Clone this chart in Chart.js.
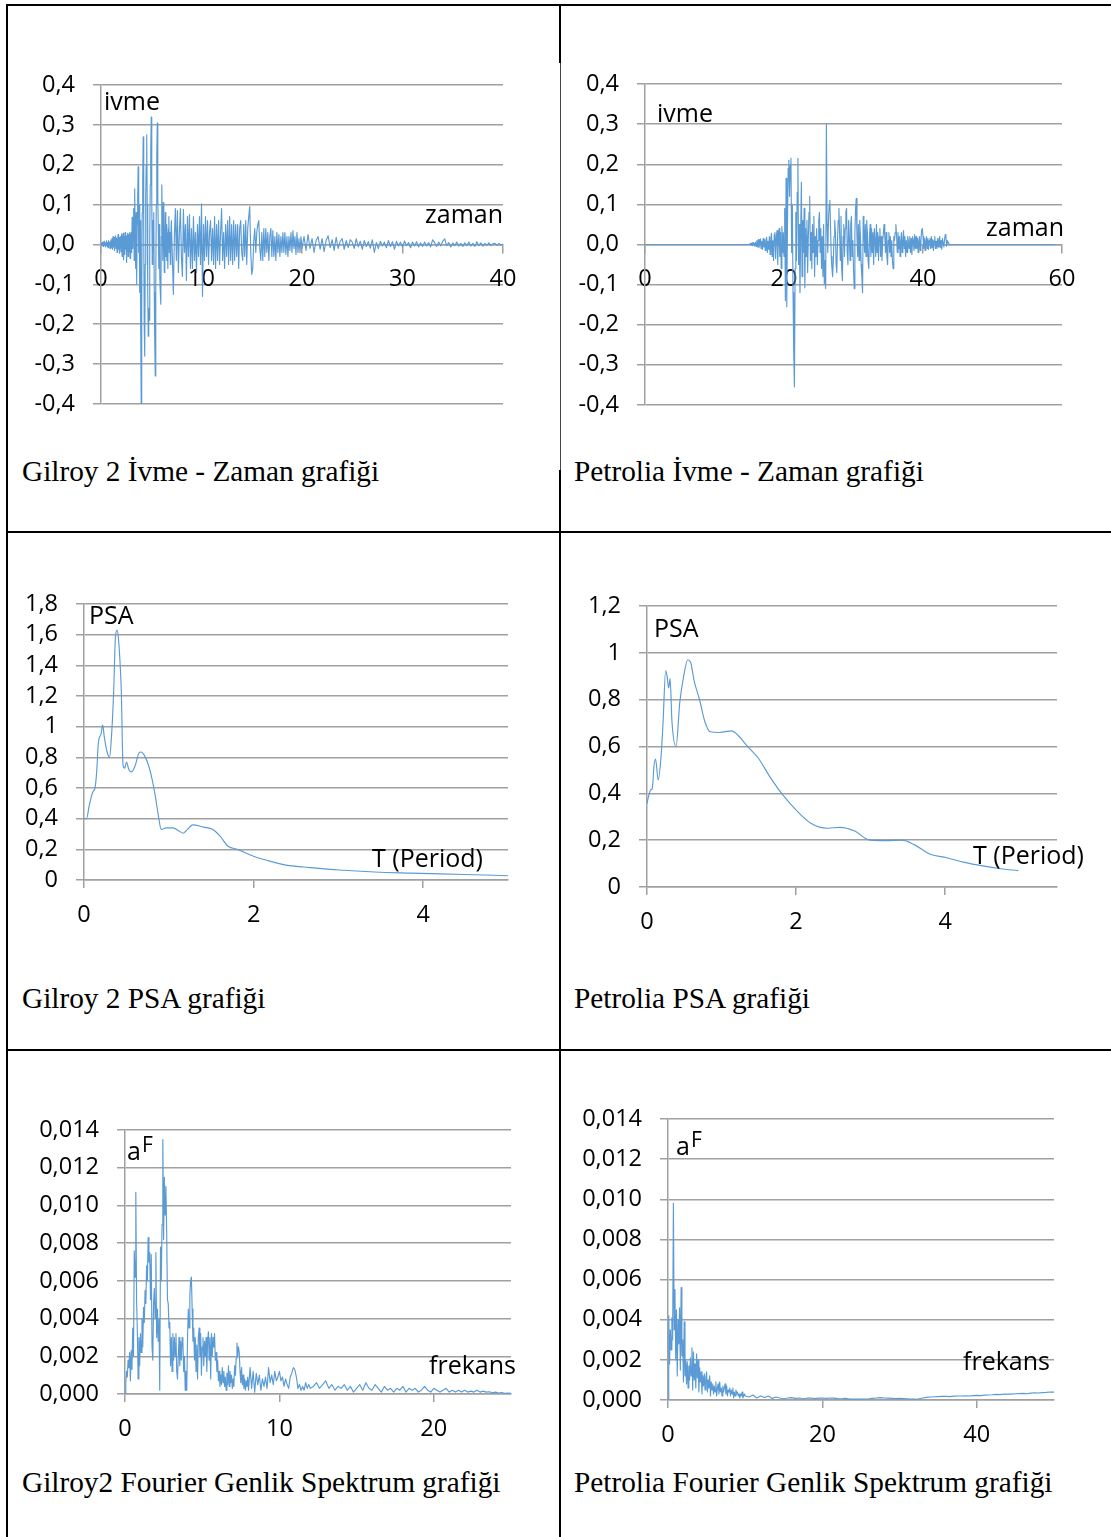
<!DOCTYPE html>
<html lang="tr">
<head>
<meta charset="utf-8">
<title>Gilroy 2 ve Petrolia kayıtları</title>
<script src="https://cdn.jsdelivr.net/npm/chart.js@4.4.1/dist/chart.umd.min.js"></script>
<style>
  html, body { margin: 0; padding: 0; background: #fff; }
  #page { position: relative; width: 1111px; height: 1537px; overflow: hidden; background: #fff; }
  .rule { position: absolute; background: #000; }
  .cap { position: absolute; font-family: 'Liberation Serif', 'Times New Roman', serif; font-size: 29.3px;
         line-height: 29px; color: #000; white-space: nowrap; }
  canvas { position: absolute; }
</style>
</head>
<body>
<div id="page">
  <!-- table rules -->
  <div class="rule" style="left:6px;top:4px;width:1105px;height:2px"></div>
  <div class="rule" style="left:6px;top:4px;width:2px;height:1533px"></div>
  <div class="rule" style="left:6px;top:531px;width:1105px;height:2px"></div>
  <div class="rule" style="left:6px;top:1049px;width:1105px;height:2px"></div>
  <div class="rule" style="left:559px;top:4px;width:2px;height:59px"></div>
  <div class="rule" style="left:560px;top:63px;width:1px;height:407px;background:#444"></div>
  <div class="rule" style="left:559px;top:470px;width:2px;height:1067px"></div>

  <canvas id="gilroyAccChart"></canvas>
  <canvas id="petroliaAccChart"></canvas>
  <canvas id="gilroyPsaChart"></canvas>
  <canvas id="petroliaPsaChart"></canvas>
  <canvas id="gilroyFasChart"></canvas>
  <canvas id="petroliaFasChart"></canvas>

  <div class="cap" style="left:22px;top:457px">Gilroy 2 İvme - Zaman grafiği</div>
  <div class="cap" style="left:574px;top:457px">Petrolia İvme - Zaman grafiği</div>
  <div class="cap" style="left:22px;top:984px">Gilroy 2 PSA grafiği</div>
  <div class="cap" style="left:574px;top:984px">Petrolia PSA grafiği</div>
  <div class="cap" style="left:22px;top:1468px">Gilroy2 Fourier Genlik Spektrum grafiği</div>
  <div class="cap" style="left:574px;top:1468px">Petrolia Fourier Genlik Spektrum grafiği</div>
</div>

<script>
// ---------- Gilroy 2 acceleration record (g) ----------
// 0 - 7 s, sampled every 0.05 s
const gilroyAccEarly = [
  0, 0.004, -0.003, 0.006, 0.002, -0.005, 0.008, -0.002, 0.004, -0.006, 0.003, 0.009, -0.004, 0.005, -0.008, 0.010, -0.003, 0.006, -0.010, 0.004,
  0.012, -0.008, 0.015, -0.012, 0.020, -0.006, 0.018, -0.015, 0.010, 0.022, -0.010, 0.016, -0.020, 0.008, 0.025, -0.012, 0.018, -0.022, 0.012, 0.020,
  -0.018, 0.026, -0.030, 0.015, 0.028, -0.038, 0.020, -0.025, 0.030, -0.012, 0.022, -0.045, 0.018, 0.028, -0.030, 0.025, -0.020, 0.030, -0.035, 0.020,
  0.03, -0.02, 0.068, -0.01, 0.05, 0.09, -0.04, 0.14, 0.03, -0.06, 0.08, -0.10, 0.05, 0.12, 0.195, -0.02, 0.10, -0.12, 0.06, -0.20,
  -0.40, -0.15, 0.08, 0.16, 0.27, 0.05, -0.20, -0.28, -0.05, 0.12, 0.20, 0.275, 0.10, -0.12, -0.23, -0.16, -0.19, 0.02, 0.15, 0.24,
  0.32, 0.12, -0.05, 0.06, -0.02, 0.08, -0.12, -0.25, -0.33, -0.10, 0.10, 0.22, 0.305, 0.12, 0.04, -0.06, 0.05, -0.08, -0.12, -0.15,
  0.02, 0.15, 0.06, -0.04, 0.105, 0.03, -0.07, 0.02, 0.08, -0.03, 0.05, -0.04, 0.03, -0.06, 0.04, 0.07, -0.02, 0.03, -0.05, 0.02,
  0.06
];
// 7.1 - 20 s, sampled every 0.1 s
const gilroyAccMid = [
  -0.03, -0.125, 0.02, 0.09, -0.04, 0.085, -0.07, 0.03, 0.09, -0.03,
  -0.08, 0.088, -0.02, 0.05, -0.09, 0.07, -0.03, 0.075, -0.06, 0.04,
  -0.06, 0.07, -0.04, 0.03, -0.07, 0.05, -0.03, 0.07, -0.05, 0.102,
  -0.13, 0.05, -0.04, 0.07, -0.03, 0.06, -0.05, 0.03, 0.06, -0.04,
  0.04, -0.05, 0.07, -0.06, 0.05, -0.04, 0.06, -0.05, 0.03, 0.09,
  -0.04, 0.03, -0.06, 0.05, -0.03, 0.06, -0.05, 0.07, -0.04, 0.05,
  -0.05, 0.06, -0.04, 0.05, -0.03, 0.05, -0.06, 0.04, 0.06, -0.02,
  -0.04, 0.05, -0.03, 0.06, -0.05, 0.04, 0.07, 0.095, -0.02, -0.075,
  -0.06, 0.01, 0.04, -0.02, 0.03, 0.05, 0.06, -0.01, -0.04, 0.03,
  -0.04, 0.04, -0.03, 0.04, -0.02, 0.03, -0.04, 0.02, 0.04, -0.03,
  0.035, -0.03, 0.02, -0.04, 0.03, -0.02, 0.025, -0.03, 0.02, -0.02,
  0.03, -0.02, 0.03, -0.025, 0.02, -0.03, 0.02, -0.015, 0.03, -0.02,
  0.035, -0.01, 0.02, -0.025, 0.03, -0.02, 0.015, -0.02, 0.02, -0.01
];
// 20.2 - 40 s, sampled every 0.2 s
const gilroyAccLate = [
  0.02, -0.015, 0.025, -0.01, 0.015, -0.02, 0.01, 0.02, -0.012, 0.015, -0.018, 0.01, 0.022, -0.008, 0.012, -0.015, 0.018, -0.01, 0.008, 0.015,
  -0.012, 0.01, -0.008, 0.012, 0.006, -0.01, 0.014, -0.006, 0.008, -0.012, 0.01, -0.005, 0.007, -0.009, 0.012, -0.02, 0.005, -0.01, 0.008, -0.004,
  0.006, -0.008, 0.01, -0.005, 0.007, -0.012, 0.008, -0.004, 0.006, -0.007, 0.009, -0.003, 0.005, -0.008, 0.006, -0.004, 0.007, -0.006, 0.004, -0.005,
  0.006, -0.004, 0.005, -0.006, 0.012, 0.004, -0.005, 0.006, -0.004, 0.008, 0.014, -0.003, 0.005, -0.006, 0.004, -0.003, 0.006, -0.004, 0.003, -0.005,
  0.004, -0.003, 0.006, -0.004, 0.003, -0.005, 0.007, -0.003, 0.004, -0.004, 0.003, -0.002, 0.004, -0.003, 0.002, 0.003, -0.002, 0.003, -0.002, 0.001
];

// ---------- Petrolia acceleration record (g) ----------
// quiet (zero) before 15 s and after 44 s; 15 - 44 s sampled every 0.1 s
const petroliaQuietStart = 0;
const petroliaQuietEnd = 59;
const petroliaAcc = [
  0, 0, 0.003, -0.002, 0.004, -0.003, 0.005, 0.002, -0.004, 0.006,
  -0.005, 0.01, -0.006, 0.012, -0.008, 0.005, 0.014, -0.01, 0.008, -0.012,
  0.015, -0.006, 0.012, -0.015, 0.01, 0.018, -0.02, 0.008, -0.012, 0.02,
  -0.025, 0.015, 0.028, -0.03, 0.01, -0.04, 0.025, 0.03, -0.035, 0.02,
  0.035, -0.05, 0.015, 0.04, -0.03, 0.03, -0.06, 0.045, -0.02, 0.03,
  -0.03, 0.09, -0.14, 0.165, -0.155, 0.05, 0.19, 0.21, 0.12, 0.2,
  0.215, -0.02, 0.1, -0.12, -0.27, -0.355, -0.06, 0.08, -0.04, 0.13,
  0.215, -0.05, 0.05, -0.12, 0.03, 0.155, -0.08, 0.06, -0.02, 0.09,
  -0.108, 0.04, -0.03, 0.06, -0.07, 0.02, 0.08, 0.12, -0.04, 0.03,
  -0.06, 0.05, -0.02, 0.07, -0.08, 0.02, -0.03, 0.04, -0.05, 0.01,
  0.06, 0.08, -0.02, 0.04, -0.06, 0.02, -0.08, 0.05, -0.1, -0.04,
  -0.11, 0.3, 0.05, -0.02, 0.06, 0.1, 0.11, 0.04, -0.03, -0.06,
  -0.08, -0.04, 0.02, 0.06, 0.03, -0.05, -0.07, 0.01, 0.06, 0.09,
  0.03, -0.04, 0.07, -0.06, -0.09, 0.02, 0.05, -0.03, 0.04, 0.08,
  0.09, -0.02, -0.05, 0.06, 0.02, -0.04, 0.05, 0.07, -0.03, 0.01,
  -0.06, -0.11, 0.03, 0.09, 0.115, 0.02, -0.03, 0.05, -0.04, 0.06,
  0.02, -0.05, -0.08, -0.12, 0.07, 0.04, -0.02, 0.05, -0.03, 0.06,
  0.03, -0.04, -0.06, 0.02, 0.05, -0.03, 0.04, -0.02, 0.03, -0.05,
  0.04, 0.01, -0.03, 0.05, -0.02, 0.03, -0.04, 0.02, 0.04, -0.03,
  0.02, -0.04, 0.01, 0.03, 0.05, 0.02, -0.02, 0.03, -0.03, -0.05,
  0.01, 0.03, -0.02, 0.02, -0.03, 0.01, -0.04, -0.06, 0.02, 0.01,
  0.03, 0.05, 0.02, -0.02, 0.03, -0.01, 0.02, -0.03, 0.01, 0.03,
  -0.02, 0.01, 0.035, -0.01, 0.02, -0.03, 0.01, -0.02, 0.02, 0.01,
  -0.01, 0.02, -0.02, 0.015, -0.025, 0.02, 0.01, -0.015, 0.025, -0.01,
  0.02, -0.01, 0.015, -0.02, 0.01, 0.02, -0.015, 0.01, 0.035, 0.04,
  0.02, -0.01, 0.015, -0.015, 0.01, 0.02, -0.01, 0.015, -0.012, 0.01,
  0.015, -0.01, 0.02, -0.008, 0.012, -0.015, 0.01, 0.02, -0.01, 0.008,
  -0.01, 0.015, -0.006, 0.012, 0.02, -0.008, 0.01, -0.012, 0.015, 0.005,
  -0.006, 0.012, 0.025, 0.018, -0.004, 0.01, 0.005, 0.002, 0, 0,
  0
];

// ---------- Pseudo spectral acceleration ----------
const gilroyPsaT = [0, 0.03, 0.06, 0.09, 0.11, 0.13, 0.15, 0.17, 0.20, 0.22, 0.24, 0.27, 0.30, 0.32, 0.35, 0.37, 0.39, 0.41, 0.44, 0.46,
  0.48, 0.50, 0.53, 0.56, 0.60, 0.65, 0.67, 0.715, 0.76, 0.80, 0.84, 0.88, 0.91, 0.97, 1.05, 1.12, 1.17, 1.22, 1.28, 1.41,
  1.52, 1.60, 1.70, 1.81, 2.00, 2.21, 2.40, 2.59, 3.01, 3.43, 3.85, 4.48, 5.00];
const gilroyPsa = [0.40, 0.40, 0.48, 0.55, 0.58, 0.60, 0.71, 0.90, 0.95, 1.01, 0.93, 0.84, 0.80, 0.90, 1.23, 1.58, 1.63, 1.55, 1.23, 0.75,
  0.73, 0.77, 0.72, 0.705, 0.74, 0.83, 0.835, 0.81, 0.75, 0.665, 0.55, 0.41, 0.33, 0.34, 0.34, 0.32, 0.305, 0.33, 0.36, 0.345,
  0.33, 0.29, 0.22, 0.20, 0.155, 0.12, 0.095, 0.085, 0.065, 0.052, 0.045, 0.036, 0.028];

const petroliaPsaT = [0, 0.02, 0.05, 0.07, 0.095, 0.115, 0.15, 0.19, 0.215, 0.25, 0.27, 0.29, 0.31, 0.335, 0.39, 0.44, 0.49, 0.547, 0.585, 0.633,
  0.705, 0.777, 0.848, 0.968, 1.136, 1.23, 1.35, 1.495, 1.64, 1.83, 2.02, 2.21, 2.42, 2.59, 2.78, 2.99, 3.21, 3.42, 3.59, 3.80,
  4.02, 4.26, 4.50, 4.74, 4.98];
const petroliaPsa = [0.356, 0.386, 0.415, 0.42, 0.52, 0.547, 0.457, 0.564, 0.70, 0.923, 0.90, 0.85, 0.89, 0.706, 0.60, 0.79, 0.897, 0.971, 0.96, 0.88,
  0.80, 0.706, 0.663, 0.66, 0.667, 0.645, 0.60, 0.55, 0.475, 0.39, 0.322, 0.27, 0.251, 0.255, 0.24, 0.20, 0.198, 0.20, 0.18, 0.14,
  0.125, 0.105, 0.09, 0.078, 0.07];

// ---------- Fourier amplitude spectra ----------
// Gilroy 2: 0 - 8 Hz every 0.05 Hz
const gilroyFas = [
  0, 0.0006, 0.0012, 0.0009, 0.0018, 0.0014, 0.0022, 0.0007, 0.0023, 0.0013,
  0.0035, 0.0020, 0.0076, 0.0062, 0.0107, 0.0050, 0.0033, 0.0008, 0.0030, 0.0015,
  0.0032, 0.0022, 0.0040, 0.0025, 0.0046, 0.0038, 0.0055, 0.0048, 0.0068, 0.0060,
  0.0083, 0.0070, 0.0075, 0.0050, 0.0074, 0.0025, 0.0018, 0.0048, 0.0056, 0.0040,
  0.0075, 0.0030, 0.0045, 0.0028, 0.0040, 0.0002, 0.0078, 0.0060, 0.0090, 0.0135,
  0.0082, 0.0115, 0.0095, 0.0110, 0.0085, 0.0050, 0.0048, 0.0035, 0.0038, 0.0015,
  0.0030, 0.0012, 0.0032, 0.0018, 0.0030, 0.0020, 0.0032, 0.0012, 0.0008, 0.0020,
  0.0030, 0.0015, 0.0028, 0.0018, 0.0030, 0.0028, 0.0012, 0.0020, 0.0002, 0.0012,
  0.0002, 0.0030, 0.0045, 0.0035, 0.0052, 0.0060, 0.0062, 0.0045, 0.0028, 0.0035,
  0.0018, 0.0030, 0.0012, 0.0026, 0.0008, 0.0030, 0.0035, 0.0020, 0.0032, 0.0010,
  0.0025, 0.0030, 0.0015, 0.0028, 0.0020, 0.0030, 0.0012, 0.0028, 0.0033, 0.0018,
  0.0030, 0.0008, 0.0032, 0.0020, 0.0030, 0.0025, 0.0032, 0.0018, 0.0022, 0.0012,
  0.0018, 0.0007, 0.0012, 0.0004, 0.0010, 0.0005, 0.0014, 0.0006, 0.0012, 0.0004,
  0.0009, 0.0002, 0.0011, 0.0005, 0.0015, 0.0004, 0.0012, 0.0006, 0.0010, 0.0003,
  0.0008, 0.0004, 0.0015, 0.0010, 0.0019, 0.0027, 0.0020, 0.0025, 0.0022, 0.0012,
  0.0006, 0.0014, 0.0005, 0.0010, 0.0003, 0.0008, 0.0002, 0.0007, 0.0004, 0.0009,
  0.0002
];
// 8.1 - 12 Hz every 0.1 Hz
const gilroyFasMid = [
  0.0014, 0.0003, 0.0012, 0.0001, 0.0011, 0.0005, 0.0010, 0.0002, 0.0008,
  0.0004, 0.0009, 0.0003, 0.0014, 0.0006, 0.0010, 0.0005, 0.0012, 0.0007, 0.0009,
  0.0012, 0.0007, 0.0009, 0.0004, 0.0008, 0.0005, 0.0003, 0.0009, 0.0011, 0.0014,
  0.0013, 0.0009, 0.0003, 0.0005, 0.0002, 0.0004, 0.0002, 0.0006, 0.0003, 0.0005,
  0.0003
];
// 12.2 - 25 Hz every 0.2 Hz
const gilroyFasTail = [
  0.0004, 0.0006, 0.0003, 0.0005, 0.0007, 0.0003, 0.0005, 0.0002, 0.0004, 0.0003,
  0.0005, 0.0002, 0.0004, 0.0001, 0.0003, 0.0005, 0.0002, 0.0006, 0.0003, 0.0002,
  0.0005, 0.0003, 0.0001, 0.0004, 0.0002, 0.0003, 0.0001, 0.0003, 0.0002, 0.0004,
  0.0001, 0.0003, 0.0002, 0.0003, 0.0001, 0.0002, 0.0004, 0.0002, 0.0001, 0.0003,
  0.0002, 0.0001, 0.0002, 0.0003, 0.0001, 0.0002, 0.0001, 0.0002, 0.0001, 0.0002,
  0.0001, 0.00015, 0.0001, 0.0002, 0.0001, 0.00015, 0.0001, 0.00012, 0.00006, 0.0001,
  0.00005, 0.00008, 0.00004, 0.00005, 0.00003
];
// Petrolia: 0 - 10 Hz every 0.1 Hz, then 10.5 - 50 Hz every 0.5 Hz
const petroliaFas = [
  0, 0.0042, 0.0018, 0.0035, 0.0025, 0.0041, 0.0030, 0.0098, 0.0035, 0.0055,
  0.0020, 0.0045, 0.0012, 0.0040, 0.0028, 0.0046, 0.0015, 0.0056, 0.0022, 0.0030,
  0.0009, 0.0039, 0.0012, 0.0020, 0.0008, 0.0019, 0.0006, 0.0017, 0.0010, 0.0021,
  0.0012, 0.0026, 0.0005, 0.0024, 0.0010, 0.0018, 0.0006, 0.0023, 0.0011, 0.0020,
  0.0004, 0.0016, 0.0009, 0.0014, 0.0003, 0.0012, 0.0007, 0.0013, 0.0005, 0.0011,
  0.0014, 0.0004, 0.0010, 0.0006, 0.0012, 0.0002, 0.0009, 0.0005, 0.0008, 0.0003,
  0.0007, 0.0004, 0.0009, 0.0002, 0.0006, 0.0008, 0.0003, 0.0009, 0.0004, 0.0006,
  0.0002, 0.0007, 0.0004, 0.0006, 0.0008, 0.0003, 0.0007, 0.0002, 0.0005, 0.0004,
  0.0006, 0.0002, 0.0005, 0.0003, 0.0006, 0.0001, 0.0004, 0.0002, 0.0005, 0.0003,
  0.0004, 0.0002, 0.0003, 0.0001, 0.0003, 0.0002, 0.0004, 0.0001, 0.0002, 0.0003,
  0.0002
];
const petroliaFasTail = [
  0.00015, 0.00025, 0.0001, 0.0002, 0.00012, 0.0002, 0.00008, 0.00015, 0.0001, 0.00006,
  0.0001, 0.00012, 0.00008, 0.0001, 0.00006, 0.00009, 0.0001, 0.00007, 0.00009, 0.0001,
  0.00008, 0.0001, 0.00009, 0.00007, 0.00006, 0.00008, 0.00005, 0.00004, 0.00005, 0.00004,
  0.00005, 0.00006, 0.00008, 0.0001, 0.00012, 0.0001, 0.00009, 0.00008, 0.00007, 0.00008,
  0.00007, 0.00006, 0.00005, 0.00004, 0.00006, 0.0001, 0.00013, 0.00015, 0.00016, 0.00017,
  0.00018, 0.00018, 0.00017, 0.00019, 0.0002, 0.0002, 0.00021, 0.0002, 0.00022, 0.00023,
  0.00022, 0.00024, 0.00025, 0.00026, 0.00028, 0.00027, 0.00029, 0.0003, 0.00029, 0.00031,
  0.00032, 0.00033, 0.00031, 0.00034, 0.00036, 0.00035, 0.00037, 0.00038, 0.0004, 0.00039
];

// ---------- axis tick settings ----------
const accTicks = { min: -0.4, max: 0.4, step: 0.1 };
const psaGilroyTicks = { min: 0, max: 1.8, step: 0.2 };
const psaPetroliaTicks = { min: 0, max: 1.2, step: 0.2 };
const fasTicks = { min: 0, max: 0.014, step: 0.002 };

// ---------- helpers ----------
const FONT = "'Open Sans', 'Noto Sans', sans-serif";
const GRID_COLOR = '#a0a0a0';
const LINE_COLOR = '#5b9bd5';

const fixedComma = d => v => (Math.abs(v) < 1e-12 ? 0 : v).toFixed(d).replace('.', ',');
const generalComma = v => String(Math.round(v * 1e6) / 1e6).replace('.', ',');

function sampled(segments) {
  const pts = [];
  for (const s of segments) {
    s.values.forEach((v, i) => pts.push({ x: +(s.t0 + i * s.dt).toFixed(4), y: v }));
  }
  return pts;
}
const paired = (xs, ys) => xs.map((x, i) => ({ x, y: ys[i] }));

function buildChart(cv, cfg, box) {
  cv.width = box.w;
  cv.height = box.h;
  cv.style.left = box.x + 'px';
  cv.style.top = box.y + 'px';
  const atZero = cfg.x.atZero;
  const tickFont = { family: FONT, size: 23.5 };

  return new Chart(cv, {
    type: 'line',
    data: {
      datasets: [{
        data: cfg.data,
        borderColor: LINE_COLOR,
        borderWidth: cfg.lw || 1.2,
        borderJoinStyle: 'round',
        pointRadius: 0,
        tension: 0,
        cubicInterpolationMode: cfg.smooth ? 'monotone' : 'default',
        fill: false
      }]
    },
    options: {
      responsive: false,
      maintainAspectRatio: false,
      animation: false,
      devicePixelRatio: 1,
      events: [],
      layout: { padding: { left: 0, top: box.padT, right: box.padR, bottom: box.padB } },
      plugins: { legend: { display: false }, tooltip: { enabled: false }, title: { display: false } },
      scales: {
        x: {
          type: 'linear',
          min: cfg.x.min, max: cfg.x.max,
          position: atZero ? { y: 0 } : 'bottom',
          afterFit: s => { if (!atZero) s.height = cfg.xH; },
          ticks: { stepSize: cfg.x.step, includeBounds: false, padding: 13, color: '#000', font: tickFont,
                   maxRotation: 0, autoSkip: false, callback: v => String(v) },
          grid: { drawOnChartArea: false, drawTicks: true, tickLength: 8, color: GRID_COLOR, lineWidth: 1.5 },
          border: { display: true, color: GRID_COLOR, width: 1.5 }
        },
        y: {
          type: 'linear',
          min: cfg.y.min, max: cfg.y.max,
          position: 'left',
          afterFit: s => { s.width = cfg.yW; },
          ticks: { stepSize: cfg.y.step, includeBounds: false, padding: 18, color: '#000', font: tickFont,
                   autoSkip: false, callback: cfg.y.fmt },
          grid: { color: GRID_COLOR, lineWidth: 1.5, tickLength: 8, drawTicks: true },
          border: { display: true, color: GRID_COLOR, width: 1.5 }
        }
      }
    },
    plugins: [{
      id: 'axisNotes',
      afterDatasetsDraw(chart) {
        const ctx = chart.ctx;
        ctx.save();
        ctx.fillStyle = '#000';
        ctx.textBaseline = 'alphabetic';
        for (const n of cfg.notes) {
          ctx.font = (n.size || 25) + 'px ' + FONT;
          ctx.textAlign = n.align || 'left';
          ctx.fillText(n.text, n.x - box.x, n.y - box.y);
        }
        ctx.restore();
      }
    }]
  });
}

// Places a chart so that its plot area lands on the page rectangle cfg.plot.
function panel(cfg) {
  const cv = document.getElementById(cfg.id);
  const p = cfg.plot;
  const box = {
    padT: 20, padR: cfg.padR, padB: cfg.padB,
    x: p.l - cfg.yW, y: p.t - 20,
    w: p.r - p.l + cfg.yW + cfg.padR,
    h: p.b - p.t + 20 + cfg.padB + cfg.xH
  };
  let chart = buildChart(cv, cfg, box);
  for (let pass = 0; pass < 2; pass++) {
    const ca = chart.chartArea;
    const eL = ca.left - (p.l - box.x), eT = ca.top - (p.t - box.y);
    const eR = ca.right - (p.r - box.x), eB = ca.bottom - (p.b - box.y);
    if (Math.max(Math.abs(eL), Math.abs(eT), Math.abs(eR), Math.abs(eB)) < 0.5) break;
    chart.destroy();
    box.x -= eL; box.y -= eT;
    box.w += eL - eR; box.h += eT - eB;
    box.x = Math.round(box.x); box.y = Math.round(box.y);
    box.w = Math.round(box.w); box.h = Math.round(box.h);
    chart = buildChart(cv, cfg, box);
  }
  return chart;
}

// ---------- charts ----------
panel({
  id: 'gilroyAccChart',
  plot: { l: 101, r: 503, t: 85, b: 404 }, yW: 80, padR: 30, padB: 20, xH: 0,
  x: { min: 0, max: 40, step: 10, atZero: true },
  y: { ...accTicks, fmt: fixedComma(1) },
  data: sampled([
    { t0: 0, dt: 0.05, values: gilroyAccEarly },
    { t0: 7.1, dt: 0.1, values: gilroyAccMid },
    { t0: 20.2, dt: 0.2, values: gilroyAccLate }
  ]),
  lw: 1.15,
  notes: [
    { text: 'ivme', x: 104, y: 110 },
    { text: 'zaman', x: 503, y: 223, align: 'right' }
  ]
});

panel({
  id: 'petroliaAccChart',
  plot: { l: 645, r: 1062, t: 84, b: 405 }, yW: 80, padR: 40, padB: 20, xH: 0,
  x: { min: 0, max: 60, step: 20, atZero: true },
  y: { ...accTicks, fmt: fixedComma(1) },
  data: [{ x: petroliaQuietStart, y: 0 }]
    .concat(sampled([{ t0: 15, dt: 0.1, values: petroliaAcc }]))
    .concat([{ x: petroliaQuietEnd, y: 0 }]),
  lw: 1.15,
  notes: [
    { text: 'ivme', x: 657, y: 122 },
    { text: 'zaman', x: 1064, y: 236, align: 'right' }
  ]
});

panel({
  id: 'gilroyPsaChart',
  plot: { l: 84, r: 508, t: 604, b: 880 }, yW: 70, padR: 45, padB: 0, xH: 60,
  x: { min: 0, max: 5, step: 2 },
  y: { ...psaGilroyTicks, fmt: generalComma },
  data: paired(gilroyPsaT, gilroyPsa),
  smooth: true, lw: 1.15,
  notes: [
    { text: 'PSA', x: 89, y: 624 },
    { text: 'T (Period)', x: 372, y: 867 }
  ]
});

panel({
  id: 'petroliaPsaChart',
  plot: { l: 647, r: 1057, t: 606, b: 887 }, yW: 75, padR: 45, padB: 0, xH: 60,
  x: { min: 0, max: 5.5, step: 2 },
  y: { ...psaPetroliaTicks, fmt: generalComma },
  data: paired(petroliaPsaT, petroliaPsa),
  smooth: true, lw: 1.15,
  notes: [
    { text: 'PSA', x: 654, y: 637 },
    { text: 'T (Period)', x: 973, y: 864 }
  ]
});

panel({
  id: 'gilroyFasChart',
  plot: { l: 125, r: 511, t: 1130, b: 1394 }, yW: 110, padR: 40, padB: 0, xH: 60,
  x: { min: 0, max: 25, step: 10 },
  y: { ...fasTicks, fmt: fixedComma(3) },
  data: sampled([
    { t0: 0, dt: 0.05, values: gilroyFas },
    { t0: 8.1, dt: 0.1, values: gilroyFasMid },
    { t0: 12.2, dt: 0.2, values: gilroyFasTail }
  ]),
  lw: 1.15,
  notes: [
    { text: 'a', x: 127, y: 1160 },
    { text: 'F', x: 142, y: 1152, size: 21 },
    { text: 'frekans', x: 516, y: 1374, align: 'right' }
  ]
});

panel({
  id: 'petroliaFasChart',
  plot: { l: 668, r: 1054, t: 1119, b: 1400 }, yW: 105, padR: 50, padB: 0, xH: 60,
  x: { min: 0, max: 50, step: 20 },
  y: { ...fasTicks, fmt: fixedComma(3) },
  data: sampled([
    { t0: 0, dt: 0.1, values: petroliaFas },
    { t0: 10.5, dt: 0.5, values: petroliaFasTail }
  ]),
  lw: 1.15,
  notes: [
    { text: 'a', x: 676, y: 1155 },
    { text: 'F', x: 691, y: 1147, size: 21 },
    { text: 'frekans', x: 1050, y: 1370, align: 'right' }
  ]
});
</script>
</body>
</html>
